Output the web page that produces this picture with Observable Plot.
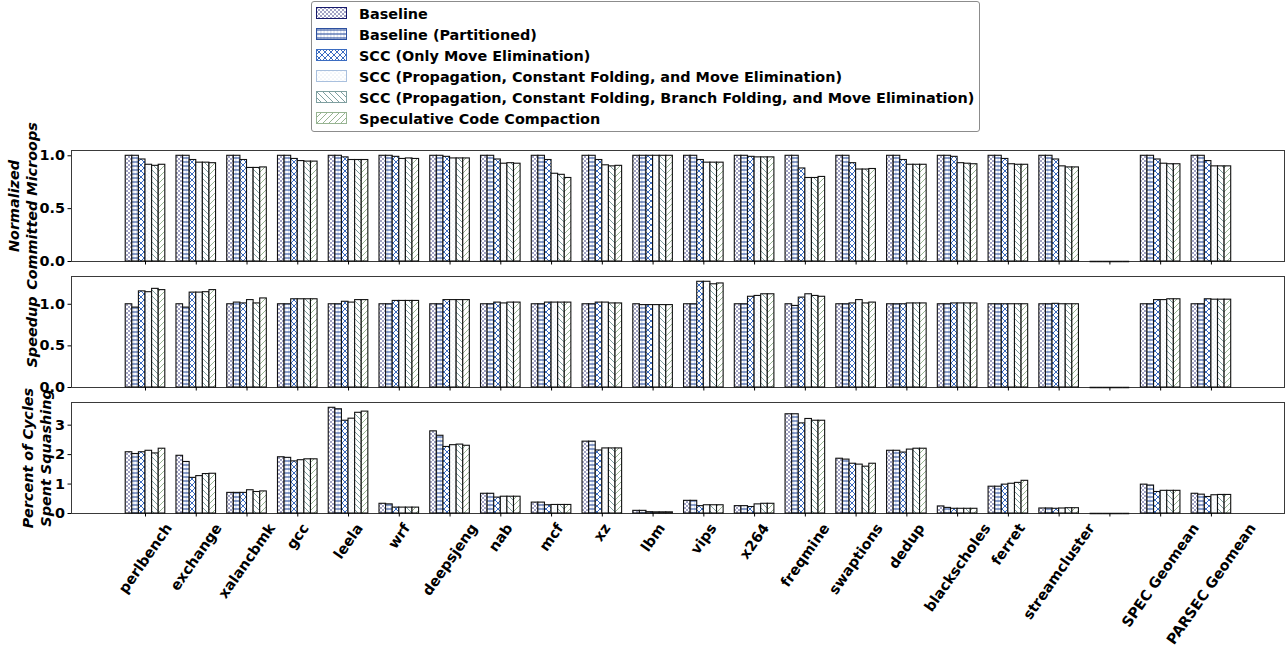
<!DOCTYPE html>
<html>
<head>
<meta charset="utf-8">
<script src="https://cdn.jsdelivr.net/npm/d3@7"></script>
<script src="https://cdn.jsdelivr.net/npm/@observablehq/plot@0.6"></script>
<style>
  body { margin: 0; background: #fff; }
  #chart { position: relative; width: 1288px; height: 651px; font-family: "DejaVu Sans", sans-serif; color: #000; }
  .panel { position: absolute; left: 0; }
  #legend { position: absolute; left: 311px; top: 1px; width: 669px; height: 131px; border: 1px solid #8c8c8c; border-radius: 3px; box-sizing: border-box; background: #fff; }
  .entry { position: absolute; left: 4px; height: 21px; display: flex; align-items: center; font-weight: bold; font-size: 14.4px; white-space: nowrap; }
  .entry svg { margin-right: 11px; }
</style>
</head>
<body>
<div id="chart">
  <svg id="patterns" width="0" height="0" style="position:absolute;left:0;top:0"></svg>
  <div id="legend"></div>
</div>
<script>
// Benchmarks along the x axis; the empty slot separates the suites from the geomeans.
const categories = ["perlbench", "exchange", "xalancbmk", "gcc", "leela", "wrf", "deepsjeng", "nab", "mcf", "xz", "lbm", "vips", "x264", "freqmine", "swaptions", "dedup", "blackscholes", "ferret", "streamcluster", "", "SPEC Geomean", "PARSEC Geomean"];

// Configurations, one bar each per benchmark.
const configs = [
  "Baseline",
  "Baseline (Partitioned)",
  "SCC (Only Move Elimination)",
  "SCC (Propagation, Constant Folding, and Move Elimination)",
  "SCC (Propagation, Constant Folding, Branch Folding, and Move Elimination)",
  "Speculative Code Compaction"
];

// Normalized committed micro-ops, one row per benchmark, one column per configuration.
const committedUops = [
  [1, 1, 0.965, 0.915, 0.905, 0.915],
  [1, 1, 0.96, 0.935, 0.935, 0.93],
  [1, 1, 0.96, 0.885, 0.885, 0.89],
  [1, 1, 0.97, 0.95, 0.945, 0.945],
  [1, 1, 0.985, 0.96, 0.96, 0.96],
  [1, 1, 0.99, 0.97, 0.975, 0.97],
  [1, 1, 0.99, 0.975, 0.975, 0.975],
  [1, 1, 0.965, 0.925, 0.93, 0.925],
  [1, 1, 0.96, 0.83, 0.82, 0.79],
  [1, 1, 0.96, 0.91, 0.9, 0.905],
  [1, 1, 1, 1, 1, 1],
  [1, 1, 0.96, 0.935, 0.935, 0.935],
  [1, 1, 0.99, 0.985, 0.985, 0.985],
  [1, 1, 0.88, 0.79, 0.79, 0.8],
  [1, 1, 0.93, 0.87, 0.87, 0.875],
  [1, 1, 0.96, 0.915, 0.915, 0.915],
  [1, 1, 0.99, 0.93, 0.925, 0.92],
  [1, 1, 0.97, 0.92, 0.915, 0.915],
  [1, 1, 0.965, 0.9, 0.89, 0.89],
  [0, 0, 0, 0, 0, 0],
  [1, 1, 0.965, 0.925, 0.92, 0.92],
  [1, 1, 0.95, 0.9, 0.9, 0.9]
];

// Speedup over the baseline.
const speedup = [
  [1, 0.96, 1.155, 1.145, 1.185, 1.17],
  [1, 0.96, 1.14, 1.14, 1.145, 1.17],
  [1, 1.02, 1.01, 1.05, 1.01, 1.07],
  [1, 1, 1.06, 1.06, 1.06, 1.06],
  [1, 1, 1.03, 1.02, 1.05, 1.05],
  [1, 1, 1.04, 1.04, 1.04, 1.04],
  [1, 1, 1.05, 1.05, 1.05, 1.05],
  [1, 1, 1.02, 1.01, 1.02, 1.02],
  [1, 1, 1.02, 1.02, 1.02, 1.02],
  [1, 1, 1.02, 1.02, 1.01, 1.01],
  [1, 0.99, 0.99, 0.99, 0.99, 0.99],
  [1, 1, 1.27, 1.27, 1.24, 1.25],
  [1, 1, 1.09, 1.1, 1.12, 1.12],
  [1, 0.98, 1.08, 1.12, 1.1, 1.09],
  [1, 1, 1.01, 1.05, 1.01, 1.02],
  [1, 1, 1, 1.01, 1.01, 1.01],
  [1, 1, 1.01, 1.01, 1.01, 1.01],
  [1, 1, 1, 1, 1, 1],
  [1, 1, 1.005, 1, 1, 1],
  [0, 0, 0, 0, 0, 0],
  [1, 1, 1.05, 1.05, 1.06, 1.06],
  [1, 1, 1.06, 1.055, 1.055, 1.055]
];

// Percent of cycles spent squashing.
const squashCycles = [
  [2.08, 2.02, 2.08, 2.13, 2.04, 2.2],
  [1.96, 1.75, 1.21, 1.27, 1.34, 1.35],
  [0.7, 0.7, 0.7, 0.79, 0.73, 0.75],
  [1.91, 1.89, 1.77, 1.81, 1.84, 1.84],
  [3.59, 3.54, 3.15, 3.22, 3.42, 3.46],
  [0.33, 0.31, 0.2, 0.2, 0.2, 0.2],
  [2.79, 2.64, 2.26, 2.32, 2.34, 2.3],
  [0.67, 0.67, 0.54, 0.57, 0.57, 0.57],
  [0.37, 0.37, 0.28, 0.29, 0.29, 0.29],
  [2.44, 2.44, 2.14, 2.21, 2.21, 2.21],
  [0.09, 0.09, 0.045, 0.04, 0.04, 0.04],
  [0.43, 0.43, 0.25, 0.28, 0.28, 0.28],
  [0.25, 0.25, 0.22, 0.31, 0.33, 0.33],
  [3.37, 3.37, 3.06, 3.21, 3.15, 3.15],
  [1.86, 1.83, 1.69, 1.66, 1.59, 1.69],
  [2.13, 2.13, 2.07, 2.17, 2.2, 2.2],
  [0.24, 0.19, 0.16, 0.16, 0.16, 0.16],
  [0.91, 0.91, 0.98, 1.01, 1.04, 1.11],
  [0.17, 0.17, 0.16, 0.17, 0.18, 0.18],
  [0, 0, 0, 0, 0, 0],
  [0.98, 0.95, 0.73, 0.77, 0.77, 0.77],
  [0.67, 0.64, 0.56, 0.62, 0.63, 0.63]
];

const ratioTicks = [0, 0.5, 1.0];
const squashTicks = [0, 1, 2, 3];

// Hatch colours per configuration.
const hatchColors = ["#16196b", "#2d509f", "#3b6cc1", "#a9c0de", "#7f9fa0", "#97b492"];

// Shared hatch patterns (white ground, coloured strokes).
document.getElementById("patterns").innerHTML = `
<defs>
  <pattern id="hatch0" patternUnits="userSpaceOnUse" width="4" height="4">
    <rect width="4" height="4" fill="#fff"/>
    <circle cx="1" cy="1" r="0.75" fill="${hatchColors[0]}"/>
    <circle cx="3" cy="3" r="0.75" fill="${hatchColors[0]}"/>
  </pattern>
  <pattern id="hatch1" patternUnits="userSpaceOnUse" width="3.3" height="4">
    <rect width="3.3" height="4" fill="#fff"/>
    <path d="M0,2H3.3" stroke="${hatchColors[1]}" stroke-width="1.1"/>
    <path d="M1.6,0V4" stroke="${hatchColors[1]}" stroke-width="0.5" stroke-opacity="0.5"/>
  </pattern>
  <pattern id="hatch2" patternUnits="userSpaceOnUse" width="6" height="6">
    <rect width="6" height="6" fill="#fff"/>
    <path d="M0,0L6,6M0,6L6,0" stroke="${hatchColors[2]}" stroke-width="1"/>
  </pattern>
  <pattern id="hatch3" patternUnits="userSpaceOnUse" width="4" height="4">
    <rect width="4" height="4" fill="#fff"/>
    <circle cx="1" cy="1" r="0.6" fill="${hatchColors[3]}" fill-opacity="0.55"/>
    <circle cx="3" cy="3" r="0.6" fill="${hatchColors[3]}" fill-opacity="0.55"/>
  </pattern>
  <pattern id="hatch4" patternUnits="userSpaceOnUse" width="6" height="6">
    <rect width="6" height="6" fill="#fff"/>
    <path d="M0,0L6,6M-3,3L3,9M3,-3L9,3" stroke="${hatchColors[4]}" stroke-width="1"/>
  </pattern>
  <pattern id="hatch5" patternUnits="userSpaceOnUse" width="6" height="6">
    <rect width="6" height="6" fill="#fff"/>
    <path d="M0,6L6,0M-3,3L3,-3M3,9L9,3" stroke="${hatchColors[5]}" stroke-width="1"/>
  </pattern>
</defs>`;

// Legend
const legend = document.getElementById("legend");
configs.forEach((name, j) => {
  const row = document.createElement("div");
  row.className = "entry";
  row.style.top = (1 + j * 21) + "px";
  row.innerHTML = `<svg width="32" height="13"><rect x="0.5" y="0.5" width="30" height="11" fill="url(#hatch${j})" stroke="${hatchColors[j]}" stroke-width="1"/></svg><span>${name}</span>`;
  legend.appendChild(row);
});

const barW = 0.13;
const xDomain = [-1.458, 22.44];
const fontFamily = "'DejaVu Sans', sans-serif";
const fontPx = 14.4;

const measureCtx = document.createElement("canvas").getContext("2d");
measureCtx.font = `bold ${fontPx}px 'DejaVu Sans'`;
const labelAngle = 55 * Math.PI / 180;

function drawPanel(rows, opt) {
  const data = rows.flatMap((r, i) => r.map((v, j) => ({i, j, v})));
  const yMax = d3.max(data, d => d.v) * 1.05;
  const marks = [Plot.frame({stroke: "#3a3a3a", strokeWidth: 1})];

  configs.forEach((name, j) => {
    marks.push(Plot.rect(data.filter(d => d.j === j), {
      x1: d => d.i + (d.j - 3) * barW,
      x2: d => d.i + (d.j - 2) * barW,
      y1: 0,
      y2: "v",
      fill: `url(#hatch${j})`,
      stroke: "#111",
      strokeWidth: 1.1
    }));
  });

  // zero-height bars still show their outline
  marks.push(Plot.ruleY(data.filter(d => d.v === 0), {
    x1: d => d.i + (d.j - 3) * barW,
    x2: d => d.i + (d.j - 2) * barW,
    y: "v",
    stroke: "#111",
    strokeWidth: 1.5
  }));

  marks.push(Plot.axisY({ticks: opt.ticks, tickFormat: opt.format, tickSize: 3.5, tickPadding: 3, label: null}));
  marks.push(Plot.axisX({ticks: d3.range(categories.length), tickFormat: () => "", tickSize: 3.5, label: null}));

  marks.push(Plot.text([opt.title], {
    text: d => d,
    frameAnchor: "left",
    dx: opt.titleDx,
    rotate: -90,
    textAnchor: "middle",
    lineAnchor: "bottom",
    lineHeight: 1.25,
    fontStyle: "italic"
  }));

  if (opt.labels) {
    categories.forEach((name, i) => {
      if (!name) return;
      const L = measureCtx.measureText(name).width;
      const boxH = L * Math.sin(labelAngle) + fontPx * 1.164 * Math.cos(labelAngle);
      marks.push(Plot.text([i], {
        x: d => d,
        text: () => name,
        frameAnchor: "bottom",
        dy: 7 + boxH / 2,
        rotate: -55,
        textAnchor: "middle",
        lineAnchor: "middle"
      }));
    });
  }

  const svg = Plot.plot({
    width: 1288,
    height: opt.marginTop + 111 + opt.marginBottom,
    marginLeft: 71,
    marginRight: 4,
    marginTop: opt.marginTop,
    marginBottom: opt.marginBottom,
    x: {domain: xDomain, axis: null},
    y: {domain: [0, yMax], axis: null},
    style: {fontFamily, fontSize: `${fontPx}px`, fontWeight: "bold", overflow: "visible", background: "transparent", color: "#000"},
    marks
  });
  const wrap = document.createElement("div");
  wrap.className = "panel";
  wrap.style.top = opt.top + "px";
  wrap.appendChild(svg);
  document.getElementById("chart").appendChild(wrap);
}

drawPanel(committedUops, {top: 144, marginTop: 6, marginBottom: 4, ticks: ratioTicks, format: d3.format(".1f"), title: "Normalized\nCommitted Microops", titleDx: -35});
drawPanel(speedup, {top: 270, marginTop: 6, marginBottom: 4, ticks: ratioTicks, format: d3.format(".1f"), title: "Speedup", titleDx: -35});
drawPanel(squashCycles, {top: 395, marginTop: 7, marginBottom: 138, ticks: squashTicks, format: d3.format("d"), title: "Percent of Cycles\nSpent Squashing", titleDx: -21, labels: true});
</script>
</body>
</html>
